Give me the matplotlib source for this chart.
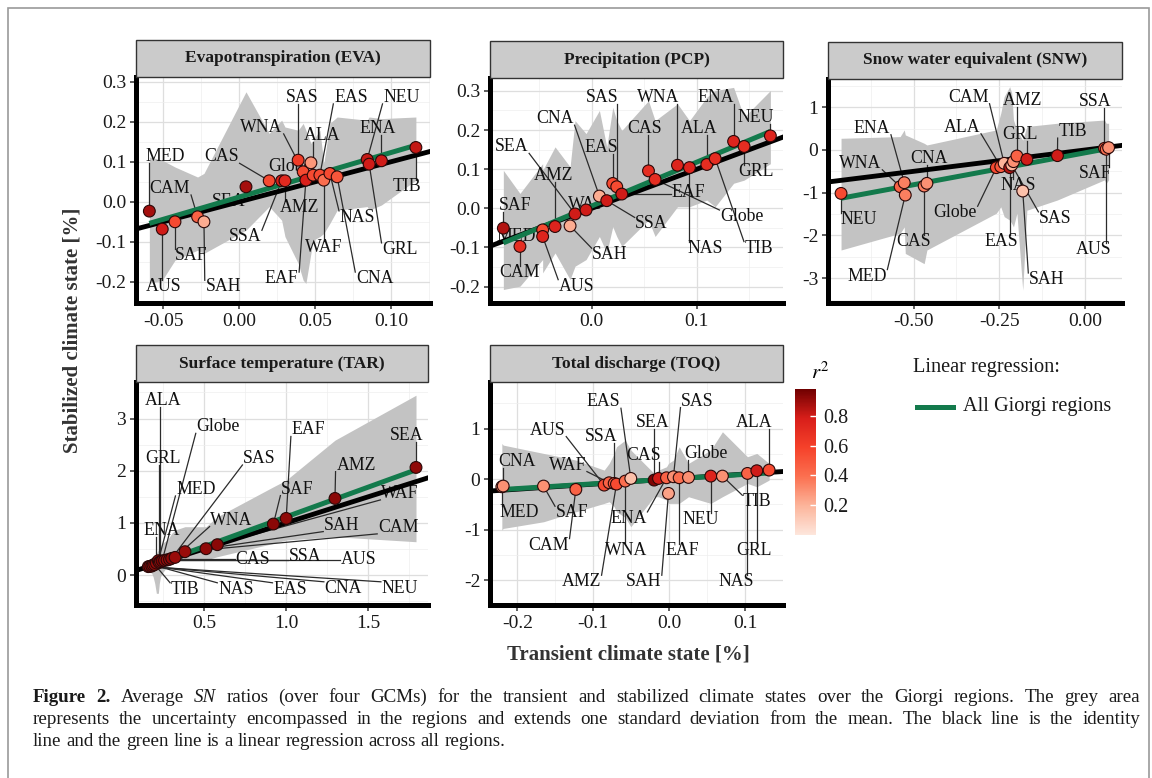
import numpy as np
import matplotlib.pyplot as plt
from matplotlib.colors import LinearSegmentedColormap, Normalize
from matplotlib.patches import Rectangle
from matplotlib.ticker import AutoMinorLocator
import matplotlib.cm as cm

plt.rcParams['font.family'] = ['Liberation Serif', 'DejaVu Serif']
plt.rcParams['mathtext.fontset'] = 'stix'

W, H = 1152, 778


def fx(px):
    return px / W


def fy(py):
    return 1 - py / H


# ---------------- data ----------------
# Evapotranspiration
eva_names = ['MED', 'AUS', 'SAF', 'CAM', 'SAH', 'SEA', 'CAS', 'SSA', 'AMZ', 'SAS', 'WNA',
             'EAF', 'Globe', 'ALA', 'EAS', 'WAF', 'NAS', 'CNA', 'NEU', 'GRL', 'ENA', 'TIB']
eva_x = [-0.0592, -0.0507, -0.0423, -0.0274, -0.0232, 0.0045, 0.0198, 0.0280, 0.0302, 0.0389, 0.0422,
         0.0440, 0.0473, 0.0488, 0.0532, 0.0558, 0.0598, 0.0646, 0.0844, 0.0857, 0.0938, 0.1165]
eva_y = [-0.0233, -0.0683, -0.0500, -0.0375, -0.0500, 0.0375, 0.0525, 0.0525, 0.0525, 0.1041, 0.0750,
         0.0541, 0.0975, 0.0666, 0.0666, 0.0541, 0.0708, 0.0625, 0.1058, 0.0941, 0.1025, 0.1358]
eva_r2 = [0.88, 0.80, 0.55, 0.45, 0.22, 0.88, 0.55, 0.78, 0.72, 0.62, 0.55,
          0.78, 0.28, 0.55, 0.55, 0.40, 0.55, 0.50, 0.82, 0.80, 0.80, 0.82]
eva_hi = [0.112, 0.104, 0.087, 0.062, 0.071, 0.275, 0.171, 0.204, 0.187, 0.179, 0.196,
          0.179, 0.146, 0.154, 0.179, 0.096, 0.196, 0.212, 0.204, 0.212, 0.208, 0.212]
eva_lo = [-0.204, -0.196, -0.146, -0.121, -0.129, -0.071, -0.012, -0.046, -0.087, -0.154, -0.196,
          -0.204, -0.129, -0.096, -0.087, -0.079, -0.054, -0.021, -0.012, -0.021, -0.008, 0.054]

# Precipitation
pcp_names = ['SAF', 'CAM', 'MED', 'AUS', 'AMZ', 'SAH', 'SEA', 'WAF', 'CNA', 'SSA', 'EAS',
             'SAS', 'EAF', 'CAS', 'Globe', 'WNA', 'NAS', 'ALA', 'TIB', 'ENA', 'GRL', 'NEU']
pcp_x = [-0.0841, -0.0683, -0.0467, -0.0467, -0.0349, -0.0206, -0.0159, -0.0054, 0.0073, 0.0143, 0.0200,
         0.0238, 0.0286, 0.0540, 0.0603, 0.0816, 0.0930, 0.1095, 0.1175, 0.1350, 0.1450, 0.1700]
pcp_y = [-0.0508, -0.0974, -0.0551, -0.0720, -0.0466, -0.0449, -0.0144, -0.0042, 0.0313, 0.0195, 0.0635,
         0.0551, 0.0364, 0.0957, 0.0737, 0.1100, 0.1040, 0.1120, 0.1270, 0.1710, 0.1580, 0.1850]
pcp_r2 = [0.85, 0.70, 0.55, 0.75, 0.75, 0.22, 0.80, 0.80, 0.22, 0.80, 0.55,
          0.55, 0.80, 0.70, 0.70, 0.75, 0.75, 0.70, 0.70, 0.75, 0.70, 0.75]
pcp_hi = [0.097, 0.038, 0.114, 0.097, 0.157, 0.106, 0.224, 0.191, 0.250, 0.157, 0.258,
          0.224, 0.199, 0.275, 0.224, 0.267, 0.224, 0.284, 0.301, 0.309, 0.233, 0.301]
pcp_lo = [-0.2075, -0.199, -0.131, -0.165, -0.114, -0.182, -0.148, -0.131, -0.072, -0.114, -0.047,
          -0.072, -0.097, -0.030, -0.072, 0.004, 0.004, 0.021, 0.004, 0.064, 0.072, 0.114]

# Snow water equivalent
snw_names = ['NEU', 'WNA', 'ENA', 'MED', 'CAS', 'CNA', 'Globe', 'ALA', 'CAM', 'EAS',
             'SAS', 'NAS', 'AMZ', 'SAH', 'GRL', 'TIB', 'SSA', 'AUS', 'SAF']
snw_x = [-0.711, -0.539, -0.527, -0.524, -0.469, -0.461, -0.259, -0.246, -0.236, -0.220,
         -0.214, -0.209, -0.199, -0.182, -0.170, -0.081, 0.056, 0.061, 0.068]
snw_y = [-1.016, -0.859, -0.766, -1.055, -0.844, -0.781, -0.414, -0.391, -0.3125, -0.414,
         -0.352, -0.273, -0.141, -0.961, -0.219, -0.133, 0.039, 0.016, 0.055]
snw_r2 = [0.55, 0.45, 0.35, 0.35, 0.35, 0.30, 0.55, 0.50, 0.20, 0.85,
          0.20, 0.30, 0.45, 0.15, 0.80, 0.80, 0.50, 0.40, 0.30]
snw_hi = [0.273, 0.3125, 0.469, 0.352, 0.156, 0.117, 0.469, 0.859, 1.25, 1.48,
          1.33, 0.70, 0.47, 0.23, 0.55, 0.625, 0.70, 0.625, 0.625]
snw_lo = [-2.34, -1.95, -1.80, -2.42, -2.66, -2.34, -1.48, -1.33, -1.56, -1.64,
          -1.72, -1.80, -1.48, -3.28, -1.41, -1.17, -0.70, -0.78, -0.70]

# Surface temperature
tar_names = ['NEU', 'CNA', 'EAS', 'NAS', 'TIB', 'ENA', 'MED', 'GRL', 'ALA', 'Globe', 'AUS',
             'SSA', 'CAS', 'SAS', 'WNA', 'CAM', 'SAH', 'WAF', 'SAF', 'EAF', 'AMZ', 'SEA']
tar_x = [0.161, 0.170, 0.182, 0.190, 0.200, 0.210, 0.222, 0.228, 0.235, 0.245, 0.260,
         0.275, 0.290, 0.303, 0.324, 0.384, 0.512, 0.581, 0.922, 1.000, 1.297, 1.790]
tar_y = [0.160, 0.165, 0.172, 0.190, 0.200, 0.230, 0.274, 0.240, 0.255, 0.270, 0.280,
         0.290, 0.300, 0.319, 0.338, 0.447, 0.504, 0.581, 0.977, 1.085, 1.468, 2.062]
tar_r2 = [0.90, 0.92, 0.90, 0.88, 0.90, 0.90, 0.92, 0.85, 0.88, 0.95, 0.90,
          0.90, 0.90, 0.92, 0.90, 0.90, 0.92, 0.93, 0.93, 0.92, 0.93, 0.92]
tar_hi = [0.223, 0.223, 0.287, 0.287, 0.351, 0.415, 0.479, 0.479, 0.543, 0.606, 0.638,
          0.670, 0.734, 0.798, 0.862, 0.926, 0.926, 1.117, 1.691, 1.819, 2.585, 3.447]
tar_lo = [0.096, 0.064, 0.032, -0.032, -0.160, -0.351, -0.351, -0.160, -0.032, 0.032, 0.096,
          0.160, 0.191, 0.287, 0.287, 0.287, 0.287, 0.351, 0.606, 0.670, 0.734, 0.638]

# Total discharge
toq_names = ['MED', 'CNA', 'SAF', 'CAM', 'AUS', 'WAF', 'SSA', 'AMZ', 'WNA', 'EAS', 'SEA',
             'CAS', 'ENA', 'SAH', 'SAS', 'EAF', 'Globe', 'NEU', 'TIB', 'NAS', 'GRL', 'ALA']
toq_x = [-0.2204, -0.2186, -0.1655, -0.1229, -0.0856, -0.0790, -0.0724, -0.0694, -0.0579, -0.0505, -0.0198,
         -0.0140, -0.0035, -0.0009, 0.0057, 0.0132, 0.0255, 0.0549, 0.0702, 0.1032, 0.1155, 0.1317]
toq_y = [-0.152, -0.138, -0.138, -0.204, -0.119, -0.0725, -0.086, -0.099, -0.040, 0.013, -0.020,
         0.013, 0.026, -0.283, 0.046, 0.026, 0.033, 0.059, 0.059, 0.112, 0.165, 0.178]
toq_r2 = [0.30, 0.30, 0.30, 0.45, 0.55, 0.45, 0.45, 0.55, 0.40, 0.15, 0.95,
          0.80, 0.45, 0.25, 0.30, 0.40, 0.30, 0.75, 0.30, 0.45, 0.80, 0.55]
toq_hi = [0.705, 0.672, 0.508, 0.376, 0.178, 0.310, 0.508, 0.639, 0.771, 0.574, 0.112,
          0.178, 0.244, 0.310, 0.376, 0.639, 0.310, 0.574, 0.936, 0.442, 0.508, 0.310]
toq_lo = [-1.009, -0.976, -0.844, -0.646, -0.481, -0.448, -0.547, -0.646, -0.758, -0.943, -0.349,
          -0.349, -0.415, -0.481, -0.481, -0.481, -0.349, -0.481, -0.349, -0.086, -0.152, -0.020]

# where the repelled labels sit (data units of each panel)
label_pos = {
    'EVA': {'MED': (-0.0489, 0.1125), 'AUS': (-0.05, -0.2125), 'SAF': (-0.0313, -0.133),
            'CAM': (-0.0456, 0.0333), 'SAH': (-0.0105, -0.2125), 'SEA': (-0.0072, 0.0),
            'CAS': (-0.0116, 0.1125), 'SSA': (0.0038, -0.0875), 'AMZ': (0.040, -0.015),
            'SAS': (0.0418, 0.261), 'WNA': (0.0148, 0.186), 'EAF': (0.028, -0.192),
            'Globe': (0.0334, 0.0875), 'ALA': (0.0548, 0.167), 'EAS': (0.0736, 0.261),
            'WAF': (0.056, -0.115), 'NAS': (0.078, -0.039), 'CNA': (0.0894, -0.192),
            'NEU': (0.107, 0.261), 'GRL': (0.106, -0.119), 'ENA': (0.0916, 0.183),
            'TIB': (0.1103, 0.0375)},
    'PCP': {'SAF': (-0.073, 0.006), 'CAM': (-0.0683, -0.165), 'MED': (-0.0714, -0.072),
            'AUS': (-0.0143, -0.199), 'AMZ': (-0.0365, 0.0847), 'SAH': (0.0175, -0.1186),
            'SEA': (-0.0762, 0.157), 'WAF': (-0.0048, 0.0085), 'CNA': (-0.0349, 0.229),
            'SSA': (0.057, -0.040), 'EAS': (0.0095, 0.155), 'SAS': (0.0102, 0.284),
            'EAF': (0.092, 0.040), 'CAS': (0.0498, 0.203), 'Globe': (0.143, -0.021),
            'WNA': (0.0635, 0.284), 'NAS': (0.108, -0.1016), 'ALA': (0.1026, 0.203),
            'TIB': (0.159, -0.1016), 'ENA': (0.118, 0.284), 'GRL': (0.156, 0.093),
            'NEU': (0.156, 0.231)},
    'SNW': {'NEU': (-0.660, -1.625), 'WNA': (-0.655, -0.3125), 'ENA': (-0.621, 0.508),
            'MED': (-0.636, -2.95), 'CAS': (-0.50, -2.15), 'CNA': (-0.456, -0.195),
            'Globe': (-0.379, -1.469), 'ALA': (-0.359, 0.531), 'CAM': (-0.340, 1.234),
            'EAS': (-0.243, -2.15), 'SAS': (-0.087, -1.60), 'NAS': (-0.194, -0.82),
            'AMZ': (-0.184, 1.148), 'SAH': (-0.112, -3.03), 'GRL': (-0.189, 0.352),
            'TIB': (-0.037, 0.430), 'SSA': (0.029, 1.133), 'AUS': (0.024, -2.33),
            'SAF': (0.029, -0.547)},
    'TAR': {'NEU': (1.692, -0.255), 'CNA': (1.348, -0.255), 'EAS': (1.023, -0.274),
            'NAS': (0.693, -0.274), 'TIB': (0.384, -0.274), 'ENA': (0.242, 0.862),
            'MED': (0.451, 1.64), 'GRL': (0.253, 2.234), 'ALA': (0.253, 3.351),
            'Globe': (0.587, 2.84), 'AUS': (1.439, 0.30), 'SSA': (1.114, 0.351),
            'CAS': (0.796, 0.30), 'SAS': (0.837, 2.234), 'WNA': (0.668, 1.053),
            'CAM': (1.682, 0.913), 'SAH': (1.338, 0.957), 'WAF': (1.692, 1.564),
            'SAF': (1.068, 1.647), 'EAF': (1.135, 2.78), 'AMZ': (1.425, 2.106),
            'SEA': (1.733, 2.68)},
    'TOQ': {'MED': (-0.198, -0.666), 'CNA': (-0.201, 0.343), 'SAF': (-0.128, -0.666),
            'CAM': (-0.159, -1.305), 'AUS': (-0.160, 0.969), 'WAF': (-0.134, 0.277),
            'SSA': (-0.090, 0.837), 'AMZ': (-0.116, -2.03), 'WNA': (-0.057, -1.404),
            'EAS': (-0.0865, 1.529), 'SEA': (-0.022, 1.114), 'CAS': (-0.034, 0.475),
            'ENA': (-0.0536, -0.778), 'SAH': (-0.034, -2.03), 'SAS': (0.0373, 1.543),
            'EAF': (0.0167, -1.404), 'Globe': (0.048, 0.508), 'NEU': (0.0417, -0.798),
            'TIB': (0.116, -0.448), 'NAS': (0.0878, -2.03), 'GRL': (0.112, -1.404),
            'ALA': (0.112, 1.114)},
}

panels = [
    dict(key='EVA', title='Evapotranspiration (EVA)', box=(136, 77, 430, 303),
         names=eva_names, x=eva_x, y=eva_y, r2=eva_r2, lo=eva_lo, hi=eva_hi,
         xlim=(-0.068, 0.1258), ylim=(-0.253, 0.312),
         xt=[-0.05, 0.0, 0.05, 0.10], xtl=['-0.05', '0.00', '0.05', '0.10'],
         yt=[-0.2, -0.1, 0.0, 0.1, 0.2, 0.3], ytl=['-0.2', '-0.1', '0.0', '0.1', '0.2', '0.3']),
    dict(key='PCP', title='Precipitation (PCP)', box=(490, 78, 783, 303),
         names=pcp_names, x=pcp_x, y=pcp_y, r2=pcp_r2, lo=pcp_lo, hi=pcp_hi,
         xlim=(-0.0968, 0.182), ylim=(-0.242, 0.333),
         xt=[0.0, 0.1], xtl=['0.0', '0.1'],
         yt=[-0.2, -0.1, 0.0, 0.1, 0.2, 0.3], ytl=['-0.2', '-0.1', '0.0', '0.1', '0.2', '0.3']),
    dict(key='SNW', title='Snow water equivalent (SNW)', box=(828, 79, 1122, 303),
         names=snw_names, x=snw_x, y=snw_y, r2=snw_r2, lo=snw_lo, hi=snw_hi,
         xlim=(-0.749, 0.107), ylim=(-3.58, 1.66),
         xt=[-0.5, -0.25, 0.0], xtl=['-0.50', '-0.25', '0.00'],
         yt=[-3, -2, -1, 0, 1], ytl=['-3', '-2', '-1', '0', '1']),
    dict(key='TAR', title='Surface temperature (TAR)', box=(136, 382, 428, 605),
         names=tar_names, x=tar_x, y=tar_y, r2=tar_r2, lo=tar_lo, hi=tar_hi,
         xlim=(0.086, 1.863), ylim=(-0.575, 3.70),
         xt=[0.5, 1.0, 1.5], xtl=['0.5', '1.0', '1.5'],
         yt=[0, 1, 2, 3], ytl=['0', '1', '2', '3']),
    dict(key='TOQ', title='Total discharge (TOQ)', box=(490, 382, 783, 605),
         names=toq_names, x=toq_x, y=toq_y, r2=toq_r2, lo=toq_lo, hi=toq_hi,
         xlim=(-0.236, 0.15), ylim=(-2.49, 1.92),
         xt=[-0.2, -0.1, 0.0, 0.1], xtl=['-0.2', '-0.1', '0.0', '0.1'],
         yt=[-2, -1, 0, 1], ytl=['-2', '-1', '0', '1']),
]

GREEN = '#137a4c'
RIBBON = '#c3c3c3'
cmap = LinearSegmentedColormap.from_list(
    'r2', [(0.0, '#fde6dc'), (0.2, '#fcb49a'), (0.4, '#fb7050'),
           (0.6, '#f5412a'), (0.8, '#d81e1a'), (1.0, '#700000')])
norm = Normalize(0.0, 0.98)

fig = plt.figure(figsize=(W / 100, H / 100), dpi=100)

# outer frame of the figure box
fig.add_artist(Rectangle((fx(8), -0.01), fx(1149) - fx(8), fy(8) + 0.01,
                         transform=fig.transFigure, fill=False, ec='#9a9a9a', lw=1.2))

STRIP_H = 37
pending = []

for p in panels:
    l, t, r, b = p['box']
    ax = fig.add_axes([fx(l), fy(b), (r - l) / W, (b - t) / H])
    ax.set_xlim(*p['xlim'])
    ax.set_ylim(*p['ylim'])
    ax.set_xticks(p['xt'])
    ax.set_xticklabels(p['xtl'])
    ax.set_yticks(p['yt'])
    ax.set_yticklabels(p['ytl'])
    ax.xaxis.set_minor_locator(AutoMinorLocator(2))
    ax.yaxis.set_minor_locator(AutoMinorLocator(2))
    ax.grid(True, which='major', color='#dedede', lw=0.9)
    ax.grid(True, which='minor', color='#eeeeee', lw=0.5)
    ax.set_axisbelow(True)
    for s in ['top', 'right']:
        ax.spines[s].set_visible(False)
    for s in ['left', 'bottom']:
        ax.spines[s].set_linewidth(3.6)
        ax.spines[s].set_color('black')
        ax.spines[s].set_zorder(7)
    ax.tick_params(which='major', direction='out', length=4, width=1.1, color='#333333',
                   labelsize=14, labelcolor='#1a1a1a', pad=3)
    ax.tick_params(which='minor', length=0)

    # facet strip
    fig.add_artist(Rectangle((fx(l), fy(t)), (r - l) / W, STRIP_H / H,
                             transform=fig.transFigure, fc='#cbcbcb', ec='#333333', lw=1.0))
    fig.text(fx((l + r) / 2), fy(t - STRIP_H / 2), p['title'], ha='center', va='center',
             fontsize=12.5, fontweight='bold', color='#1a1a1a')

    x = np.array(p['x'])
    y = np.array(p['y'])
    order = np.argsort(x, kind='stable')
    ax.fill_between(x[order], np.array(p['lo'])[order], np.array(p['hi'])[order],
                    color=RIBBON, lw=0, zorder=1)
    ax.axline((0, 0), slope=1, color='black', lw=3.5, zorder=4)
    k, c = np.polyfit(x, y, 1)
    xs = np.array([x.min(), x.max()])
    ax.plot(xs, k * xs + c, color=GREEN, lw=3.6, zorder=5, solid_capstyle='butt')
    ax.scatter(x, y, c=p['r2'], cmap=cmap, norm=norm, s=72, edgecolors='#2a0808',
               linewidths=0.8, zorder=6)

    for n, xi, yi in zip(p['names'], x, y):
        lx, ly = label_pos[p['key']][n]
        txt = ax.text(lx, ly, n, ha='center', va='center', fontsize=12.8,
                      color='#111111', zorder=3)
        pending.append((ax, txt, xi, yi))

# segments from each point to the edge of its label box
fig.canvas.draw()
renderer = fig.canvas.get_renderer()
for ax, txt, xi, yi in pending:
    bb = txt.get_window_extent(renderer).expanded(1.04, 1.0)
    px, py = ax.transData.transform((xi, yi))
    cx = min(max(px, bb.x0), bb.x1)
    cy = min(max(py, bb.y0 + 2), bb.y1 - 2)
    if np.hypot(cx - px, cy - py) > 9:
        (a0, a1), (b0, b1) = ax.transData.inverted().transform([(px, py), (cx, cy)])
        ax.plot([a0, b0], [a1, b1], color='#2b2b2b', lw=0.9, zorder=2)

# colour bar for r^2
cax = fig.add_axes([fx(795), fy(535), 21 / W, 146 / H])
sm = cm.ScalarMappable(norm=norm, cmap=cmap)
cb = fig.colorbar(sm, cax=cax, ticks=[0.2, 0.4, 0.6, 0.8])
cb.outline.set_visible(False)
cb.ax.tick_params(direction='in', length=4, width=1, color='white', labelsize=14.5,
                  labelcolor='#1a1a1a', pad=5)
cb.ax.set_yticklabels(['0.2', '0.4', '0.6', '0.8'])
fig.text(fx(820), fy(373), r'$r^2$', ha='center', va='center', fontsize=15)

# legend
fig.text(fx(913), fy(367), 'Linear regression:', ha='left', va='center', fontsize=14.6,
         color='#1a1a1a')
fig.add_artist(plt.Line2D([fx(917), fx(953)], [fy(407), fy(407)], transform=fig.transFigure,
                          color=GREEN, lw=3.6))
fig.text(fx(963), fy(407), 'All Giorgi regions', ha='left', va='center', fontsize=14.6,
         color='#1a1a1a')

# axis titles
fig.text(fx(72), fy(330), 'Stabilized climate state [%]', rotation=90, ha='center',
         va='center', fontsize=15, fontweight='bold', color='#333333')
fig.text(fx(628), fy(655), 'Transient climate state [%]', ha='center', va='center',
         fontsize=15, fontweight='bold', color='#333333')

# caption
CAP_FS = 13.7
space_px = 0.25 * CAP_FS * 100 / 72
caption = [
    ([('Figure', 'b'), ('2.', 'b'), ('Average', 'n'), ('SN', 'i')] +
     [(w, 'n') for w in ('ratios (over four GCMs) for the transient and stabilized climate '
                         'states over the Giorgi regions. The grey area').split()], True, 697),
    ([(w, 'n') for w in ('represents the uncertainty encompassed in the regions and extends one '
                         'standard deviation from the mean. The black line is the identity').split()],
     True, 719),
    ([(w, 'n') for w in 'line and the green line is a linear regression across all regions.'.split()],
     False, 741),
]
styles = {'b': dict(fontweight='bold'), 'n': dict(), 'i': dict(fontstyle='italic')}
x_start, x_end = 33, 1140
for words, justify, ypix in caption:
    objs = []
    for w, s in words:
        tt = fig.text(0, fy(ypix), w, ha='left', va='center', fontsize=CAP_FS,
                      color='#1a1a1a', **styles[s])
        objs.append((tt, tt.get_window_extent(renderer).width))
    total = sum(wd for _, wd in objs)
    gap = (x_end - x_start - total) / (len(objs) - 1) if justify else space_px
    xp = x_start
    for tt, wd in objs:
        tt.set_x(fx(xp))
        xp += wd + gap

fig.savefig('out.png', dpi=100)
